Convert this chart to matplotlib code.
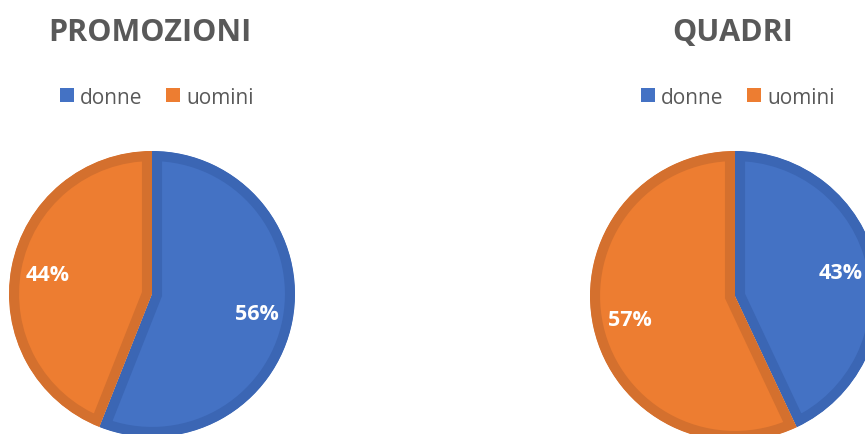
import matplotlib.pyplot as plt
from matplotlib.patches import Patch

# data
categories = ['donne', 'uomini']
titles = ['PROMOZIONI', 'QUADRI']
promozioni = [56, 44]
quadri = [43, 57]

fill_colors = ['#4472C4', '#ED7D31']
edge_colors = ['#3B66B4', '#D4702E']
text_grey = '#595959'

W, H = 865, 435
fig = plt.figure(figsize=(W / 100, H / 100), dpi=100)
fig.patch.set_facecolor('white')


def px_axes(cx, cy, r):
    # axes square around a pie of radius r centred at (cx, cy) in image pixels
    return fig.add_axes([(cx - r) / W, (H - cy - r) / H, 2 * r / W, 2 * r / H])


def draw_pie(ax, values):
    wedges, _, autotexts = ax.pie(
        values, colors=fill_colors, startangle=90, counterclock=False,
        autopct='%d%%', pctdistance=0.745, radius=1,
        wedgeprops=dict(linewidth=14.5),
        textprops=dict(color='white', fontsize=15.5, fontweight='bold',
                       family='Open Sans'),
    )
    for w, ec in zip(wedges, edge_colors):
        w.set_edgecolor(ec)
        w.set_clip_on(True)
        w.set_clip_path(w)
    ax.set_xlim(-1, 1)
    ax.set_ylim(-1, 1)
    ax.set_axis_off()
    return wedges


specs = [
    (promozioni, 152, 295, 143, 150, 157),
    (quadri, 735, 297, 145, 733, 738),
]

for (values, cx, cy, r, tx, lx), title in zip(specs, titles):
    ax = px_axes(cx, cy, r)
    draw_pie(ax, values)
    fig.text(tx / W, 1 - 33 / H, title, ha='center', va='center',
             fontsize=22, fontweight='bold', color=text_grey, family='Open Sans')
    handles = [Patch(facecolor=c, edgecolor='none') for c in fill_colors]
    fig.legend(handles, categories, loc='center', bbox_to_anchor=(lx / W, 1 - 98 / H),
               ncol=2, frameon=False, labelcolor=text_grey,
               handlelength=0.64, handleheight=0.64, handletextpad=0.3,
               columnspacing=1.15, borderpad=0, borderaxespad=0,
               prop=dict(family='Open Sans', size=15))

fig.savefig('out.png', dpi=100)
